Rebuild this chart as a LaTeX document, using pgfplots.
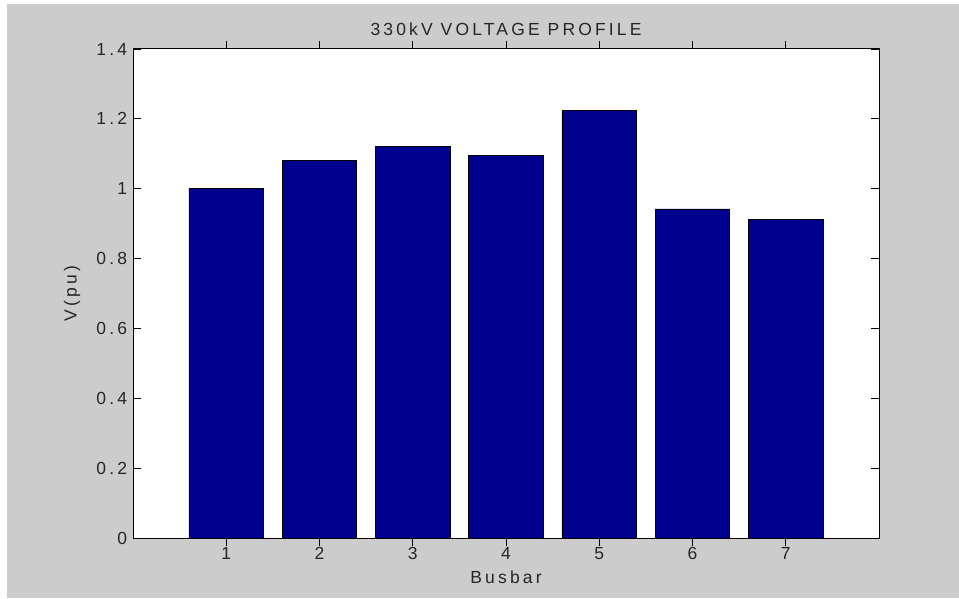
\documentclass[border=0pt]{standalone}
\usepackage{pgfplots}
\pgfplotsset{compat=1.18}
\usepackage{fontspec}
\setmainfont[LetterSpace=18]{Liberation Sans}
\definecolor{matgrey}{RGB}{204,204,204}
\definecolor{matnavy}{RGB}{0,0,143}
\begin{document}
\begin{tikzpicture}
\path[use as bounding box] (0pt,0pt) rectangle (575.4pt,358.8pt);
\fill[matgrey] (4.2pt,0pt) rectangle (575.4pt,356.4pt);
\begin{axis}[
  at={(79.8pt,36pt)}, anchor=origin,
  scale only axis,
  width=447.6pt, height=293.4pt,
  xmin=0, xmax=8, ymin=0, ymax=1.4,
  xtick={1,2,3,4,5,6,7},
  ytick={0,0.2,0.4,0.6,0.8,1,1.2,1.4},
  yticklabels={0,0.2,0.4,0.6,0.8,1,1.2,1.4},
  tick align=inside,
  major tick length=4.8pt,
  tick style={black, line width=0.5pt},
  axis line style={black, line width=0.6pt},
  axis background/.style={fill=white},
  /pgf/number format/assume math mode=true,
  every tick label/.append style={font=\fontsize{10.5}{12}\selectfont, text=black!85},
  xticklabel style={anchor=north, yshift=2.9pt},
  yticklabel style={anchor=east, xshift=0pt},
  title={330kV VOLTAGE PROFILE},
  title style={at={(0.5,1.0205)}, anchor=center, yshift=0pt, font=\fontsize{10.5}{12}\selectfont, text=black!85},
  xlabel={Busbar},
  xlabel style={at={(0.5,-0.0798)}, anchor=center, font=\fontsize{10.5}{12}\selectfont, text=black!85},
  ylabel={V(pu)},
  ylabel style={at={(-0.0818,0.5)}, anchor=center, font=\fontsize{10.5}{12}\selectfont, text=black!85},
  ybar, bar width=0.8,
]
\addplot[fill=matnavy, draw=black, line width=0.5pt] coordinates {
  (1,1.000) (2,1.080) (3,1.120) (4,1.096) (5,1.223) (6,0.942) (7,0.912)
};
\end{axis}
\end{tikzpicture}
\end{document}
